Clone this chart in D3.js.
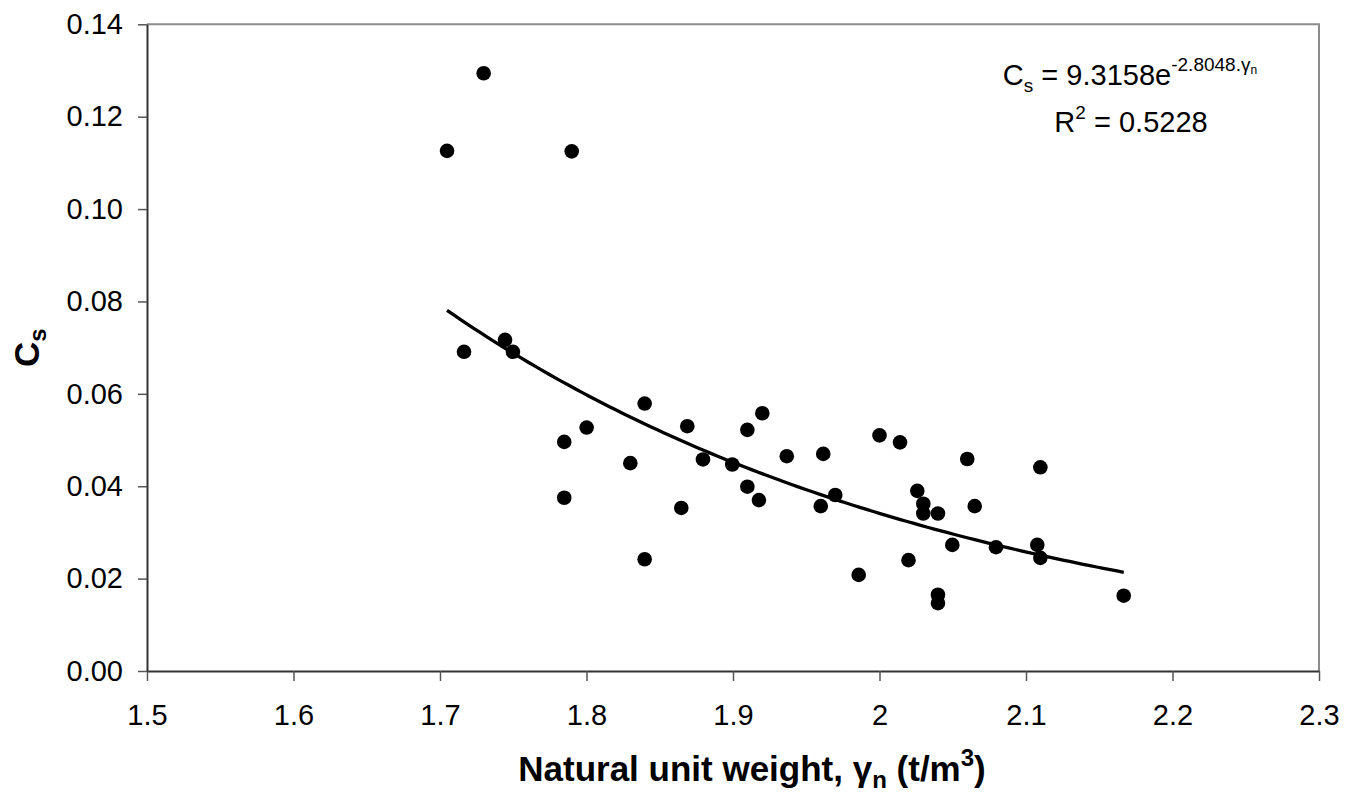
<!DOCTYPE html>
<html>
<head>
<meta charset="utf-8">
<script src="https://cdn.jsdelivr.net/npm/d3@7"></script>
<style>
  html, body { margin: 0; padding: 0; background: #fff; }
  svg { display: block; font-family: "Liberation Sans", Arial, sans-serif; }
</style>
</head>
<body>
<svg id="chart" width="1356" height="797"></svg>
<script>
// ---- Data ----
const unitWeight = [1.7048, 1.7298, 1.7899, 1.7164, 1.7444, 1.7498, 1.7848, 1.7848, 1.8001, 1.8397,
  1.8397, 1.8299, 1.8647, 1.8688, 1.8795, 1.8995, 1.9098, 1.9098, 1.9177, 1.9200,
  1.9367, 1.9599, 1.9616, 1.9698, 1.9858, 2.0000, 2.0140, 2.0198, 2.0258, 2.0299,
  2.0299, 2.0399, 2.0399, 2.0399, 2.0497, 2.0599, 2.0650, 2.0795, 2.1077, 2.1098,
  2.1098, 2.1667];
const csValues = [0.1126, 0.1294, 0.1125, 0.0691, 0.0717, 0.0691, 0.0375, 0.0496, 0.0527, 0.0579,
  0.0242, 0.0450, 0.0353, 0.0530, 0.0458, 0.0447, 0.0522, 0.0399, 0.0370, 0.0558,
  0.0465, 0.0357, 0.0470, 0.0381, 0.0208, 0.0510, 0.0495, 0.0240, 0.0390, 0.0362,
  0.0341, 0.0341, 0.0165, 0.0147, 0.0273, 0.0459, 0.0357, 0.0268, 0.0273, 0.0245,
  0.0441, 0.0163];
const xTicks = [1.5, 1.6, 1.7, 1.8, 1.9, 2.0, 2.1, 2.2, 2.3];
const xTickLabels = ["1.5", "1.6", "1.7", "1.8", "1.9", "2", "2.1", "2.2", "2.3"];
const yTicks = [0, 0.02, 0.04, 0.06, 0.08, 0.10, 0.12, 0.14];
const yTickLabels = ["0.00", "0.02", "0.04", "0.06", "0.08", "0.10", "0.12", "0.14"];
const fitCoef = [9.3158, -2.8048];   // Cs = a * exp(b * gamma_n)
const rSquared = "0.5228";

// ---- Layout ----
const svg = d3.select("#chart");
const x = d3.scaleLinear().domain([1.5, 2.3]).range([147, 1319]);
const y = d3.scaleLinear().domain([0, 0.14]).range([671, 24.3]);

// Plot frame (top/right borders, lighter)
svg.append("path")
  .attr("d", `M${x(1.5)},${y(0.14)}H${x(2.3)}V${y(0)}`)
  .attr("fill", "none").attr("stroke", "#8c8c8c").attr("stroke-width", 2);

// Axes
const xAxis = d3.axisBottom(x).tickValues(xTicks)
  .tickFormat((d, i) => xTickLabels[i]).tickSize(10).tickPadding(23).tickSizeOuter(0);
const yAxis = d3.axisLeft(y).tickValues(yTicks)
  .tickFormat((d, i) => yTickLabels[i]).tickSize(9).tickPadding(15).tickSizeOuter(0);

const gx = svg.append("g").attr("transform", `translate(0,${y(0)})`).call(xAxis);
const gy = svg.append("g").attr("transform", `translate(${x(1.5)},0)`).call(yAxis);
[gx, gy].forEach(g => {
  g.select(".domain").attr("stroke", "#333").attr("stroke-width", 2);
  g.selectAll(".tick line").attr("stroke", "#555").attr("stroke-width", 1.5);
  g.selectAll(".tick text").attr("fill", "#000")
    .style("font-size", "29px").style("font-family", "'Liberation Sans', Arial, sans-serif");
});

// Trend line
const xMin = d3.min(unitWeight), xMax = d3.max(unitWeight);
const curvePts = d3.range(0, 101).map(i => {
  const g = xMin + (xMax - xMin) * i / 100;
  return [g, fitCoef[0] * Math.exp(fitCoef[1] * g)];
});
svg.append("path")
  .datum(curvePts)
  .attr("d", d3.line().x(d => x(d[0])).y(d => y(d[1])))
  .attr("fill", "none").attr("stroke", "#000").attr("stroke-width", 3.3);

// Points
svg.append("g").selectAll("circle")
  .data(unitWeight.map((g, i) => [g, csValues[i]]))
  .join("circle")
  .attr("cx", d => x(d[0])).attr("cy", d => y(d[1]))
  .attr("r", 7.3).attr("fill", "#000");

// Equation
const eq = svg.append("text").attr("x", 1130).attr("y", 85)
  .attr("text-anchor", "middle").style("font-size", "29px").attr("fill", "#000");
eq.append("tspan").text("C");
eq.append("tspan").attr("dy", 7).style("font-size", "19px").text("s");
eq.append("tspan").attr("dy", -7).text(" = " + fitCoef[0].toFixed(4) + "e");
eq.append("tspan").attr("dy", -14).style("font-size", "19px").text(fitCoef[1].toFixed(4) + ".γ");
eq.append("tspan").attr("dy", 3).style("font-size", "12px").text("n");

const r2 = svg.append("text").attr("x", 1131).attr("y", 132)
  .attr("text-anchor", "middle").style("font-size", "29px").attr("fill", "#000");
r2.append("tspan").text("R");
r2.append("tspan").attr("dy", -13).style("font-size", "19px").text("2");
r2.append("tspan").attr("dy", 13).text(" = " + rSquared);

// Axis titles
const xt = svg.append("text").attr("x", 752).attr("y", 781)
  .attr("text-anchor", "middle").style("font-size", "35px").style("font-weight", "bold");
xt.append("tspan").text("Natural unit weight, γ");
xt.append("tspan").attr("dy", 7).style("font-size", "24px").text("n");
xt.append("tspan").attr("dy", -7).text(" (t/m");
xt.append("tspan").attr("dy", -15).style("font-size", "24px").text("3");
xt.append("tspan").attr("dy", 15).text(")");

const yt = svg.append("text")
  .attr("transform", `translate(39,${(y(0) + y(0.14)) / 2}) rotate(-90)`)
  .attr("text-anchor", "middle").style("font-size", "35px").style("font-weight", "bold");
yt.append("tspan").text("C");
yt.append("tspan").attr("dy", 7).style("font-size", "24px").text("s");
</script>
</body>
</html>
